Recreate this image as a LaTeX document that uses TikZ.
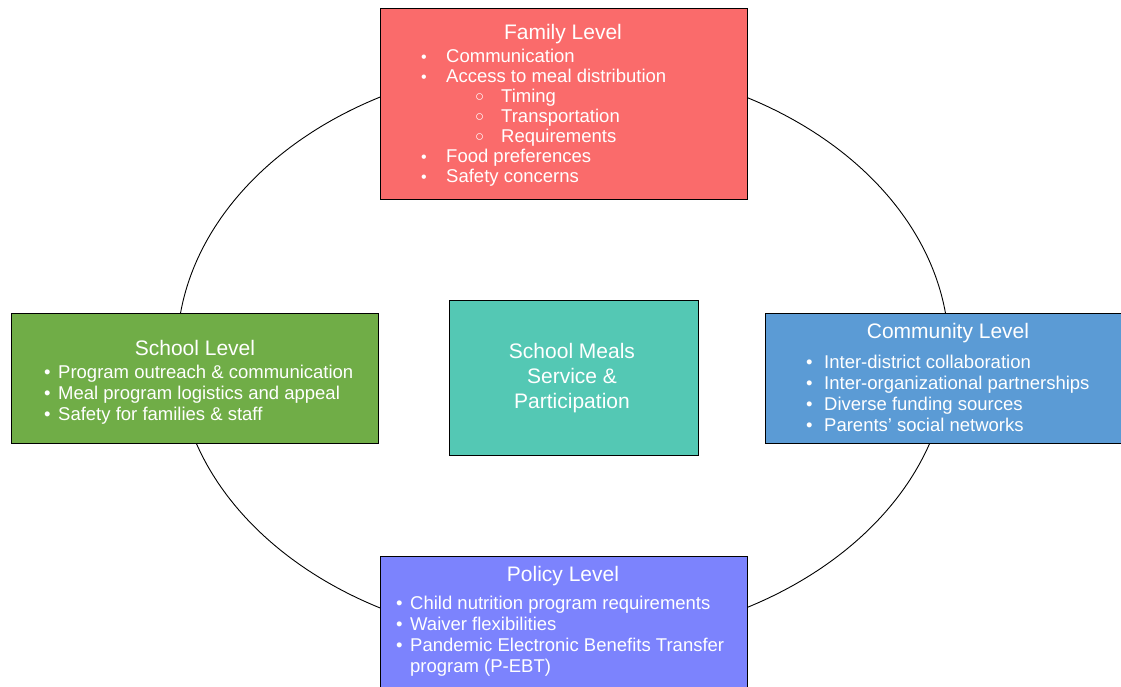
\documentclass[tikz,border=0pt]{standalone}
\usepackage{fontspec}
\setmainfont{Liberation Sans}
\usepackage{xcolor}
\usetikzlibrary{positioning}
\definecolor{famred}{RGB}{250,107,107}
\definecolor{schgreen}{RGB}{112,173,71}
\definecolor{midteal}{RGB}{84,200,180}
\definecolor{comblue}{RGB}{91,155,213}
\definecolor{polblue}{RGB}{124,131,253}
\newcommand{\bul}[2][\textbullet]{\makebox[#2][l]{#1}}
\newcommand{\fambul}{\bul[{\fontsize{16}{16}\selectfont\textbullet}]{25pt}}
\newcommand{\subbul}{\hspace{54pt}\makebox[26pt][l]{\raisebox{.5pt}{\fontsize{15}{15}\selectfont ○}}}

\begin{document}
\begin{tikzpicture}[x = 1pt, y = -1pt,
  box/.style = {draw = black, line width = 1pt, inner sep = 0, anchor = north west},
  head/.style = {text = white, font = \fontsize{21}{25}\selectfont, anchor = base, inner sep = 0},
  items/.style = {text = white, font = \fontsize{18.5}{20.7}\selectfont, anchor = base west, align = left, inner sep = 0}]
\useasboundingbox (0,0) rectangle (1121,686);
\draw[line width = .9pt] (563,352.5) ellipse [x radius = 386, y radius = 290];
\node[box, fill = famred, minimum width = 367, minimum height = 191] (family) at (380,8) {};
\node[box, fill = schgreen, minimum width = 367, minimum height = 130] (school) at (11,313) {};
\node[box, fill = midteal, minimum width = 249, minimum height = 155] (core) at (449,300) {};
\node[box, fill = comblue, minimum width = 380, minimum height = 130] (community) at (765,313) {};
\node[box, fill = polblue, minimum width = 367, minimum height = 150] (policy) at (380,556) {};
% lists sit on the baseline of their last line
\node[head] (famhead) at (563,39) {Family Level};
\node[items, font = \fontsize{18.5}{20}\selectfont] (famlist) at (421,182) {\fambul Communication\\
  \fambul Access to meal distribution\\
  \subbul Timing\\
  \subbul Transportation\\
  \subbul Requirements\\
  \fambul Food preferences\\
  \fambul Safety concerns};
\node[head] (schhead) at (195,355) {School Level};
\node[items] (schlist) at (44,420) {\bul{14pt}Program outreach \& communication\\
  \bul{14pt}Meal program logistics and appeal\\
  \bul{14pt}Safety for families \& staff};
\node[head, align = center] (coretext) at (572,408) {School Meals\\Service \&\\Participation};
\node[head] (comhead) at (948,338) {Community Level};
\node[items] (comlist) at (806,431) {\bul{18pt}Inter-district collaboration\\
  \bul{18pt}Inter-organizational partnerships\\
  \bul{18pt}Diverse funding sources\\
  \bul{18pt}Parents’ social networks};
\node[head] (polhead) at (563,581) {Policy Level};
\node[items] (pollist) at (396,672) {\bul{14pt}Child nutrition program requirements\\
  \bul{14pt}Waiver flexibilities\\
  \bul{14pt}Pandemic Electronic Benefits Transfer\\
  \hspace{14pt}program (P-EBT)};
\end{tikzpicture}
\end{document}
